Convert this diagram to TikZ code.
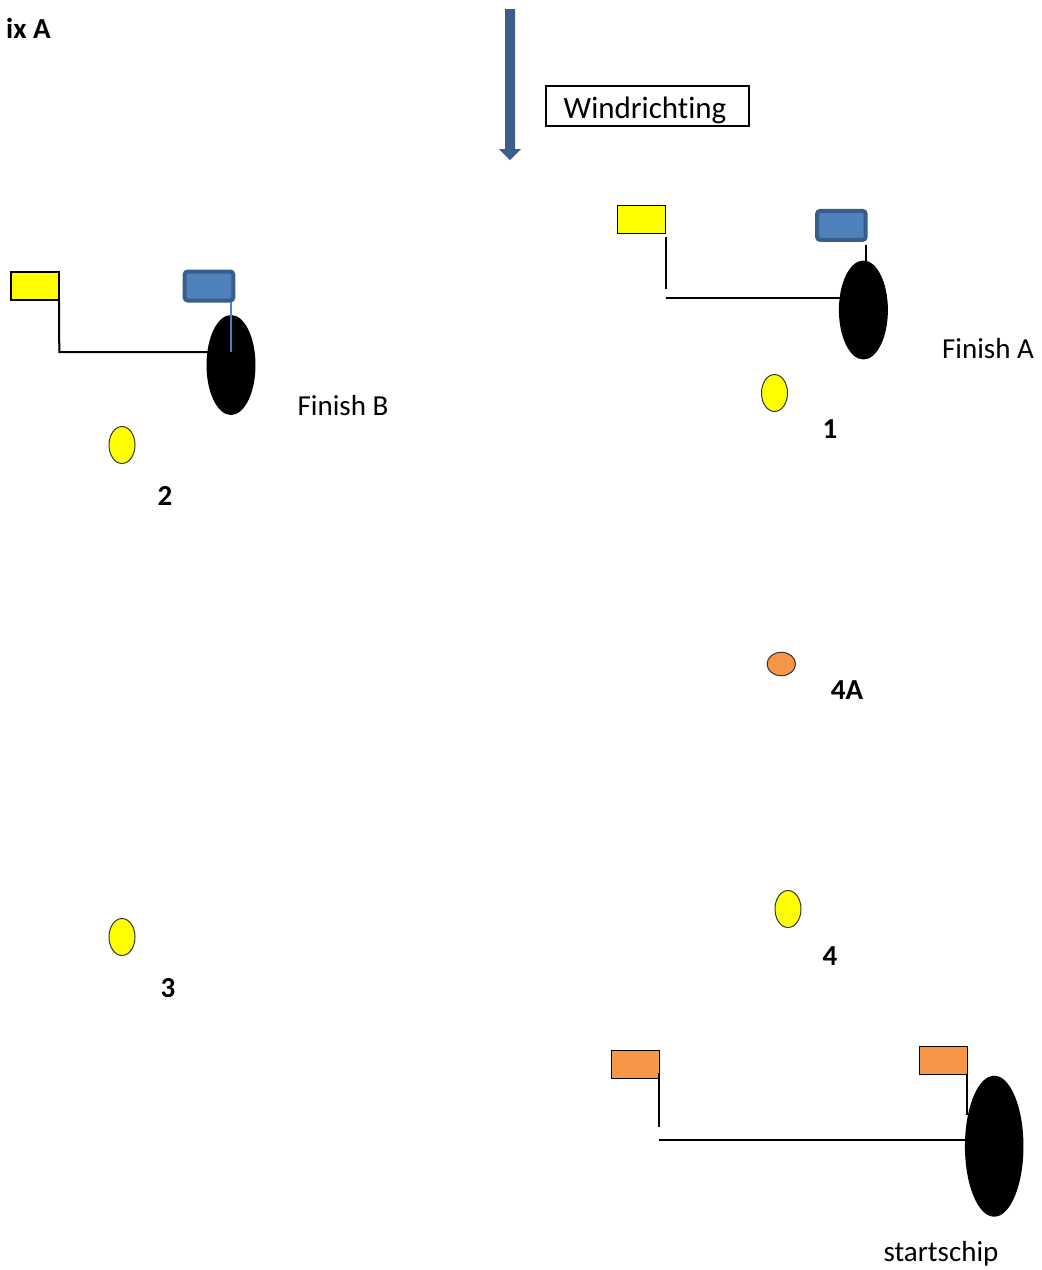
\documentclass[tikz,border=0pt]{standalone}
\usepackage{fontspec}
\setmainfont[Ligatures=NoCommon]{Carlito}
\usetikzlibrary{shapes.geometric}
\definecolor{windblue}{RGB}{59,94,140}
\definecolor{flagblue}{RGB}{79,129,189}
\definecolor{flagedge}{RGB}{58,94,140}
\definecolor{flagorange}{RGB}{247,150,70}
\definecolor{flagyellow}{RGB}{255,255,0}
\begin{document}
\begin{tikzpicture}[x=1pt,y=-1pt,
  lbl/.style={font=\fontsize{29}{34}\selectfont, inner sep=0, anchor=base},
  num/.style={font=\fontsize{29}{34}\selectfont\bfseries, inner sep=0, anchor=base},
  flagbox/.style={draw=black, line width=1.2, minimum width=48, minimum height=28, inner sep=0, outer sep=0},
  blueflag/.style={draw=flagedge, fill=flagblue, line width=4, rounded corners=3, minimum width=48.6, minimum height=29, inner sep=0, outer sep=0},
  boat/.style={ellipse, fill=black, inner sep=0, outer sep=0},
  buoy/.style={ellipse, draw=black!80, line width=1, fill=flagyellow, inner sep=0, minimum width=26, minimum height=37},
  rope/.style={draw=black, line width=2}
]
\useasboundingbox (0,0) rectangle (1042,1270);

% title fragment
\node[num, anchor=base east] (title) at (51,38) {ix A};

% wind arrow
\fill[windblue] (505,9) -- (515,9) -- (515,149) -- (521,149) -- (510,160) -- (499,149) -- (505,149) -- cycle;
\node[draw=black, line width=1.5, minimum width=203, minimum height=40, inner sep=0] (wind) at (647.5,106) {};
\node[font=\fontsize{31}{36}\selectfont, inner sep=0, anchor=base] (windtxt) at (645,118) {Windrichting};

% ---------- Finish B ----------
\node[flagbox, fill=flagyellow] (ylwB) at (35,286) {};
\node[blueflag] (bluB) at (209,286) {};
\node[boat, minimum width=49, minimum height=100] (boatB) at (231,365) {};
\coordinate (cornerB) at (59.3,352);
\coordinate (hitB) at (207.5,352);
\draw[rope] (ylwB.south east) -- (cornerB) -- (hitB);
\draw[flagblue, line width=1.5] (231,302) -- (231,352);
\node[lbl] (finB) at (343,415) {Finish B};
\node[buoy] (m2) at (122,445) {};
\node[num] (l2) at (165,505) {2};

% ---------- Finish A ----------
\node[flagbox, fill=flagyellow] (ylwA) at (641.3,219.5) {};
\node[blueflag] (bluA) at (841.4,225.4) {};
\node[boat, minimum width=49, minimum height=99] (boatA) at (863.4,310) {};
\coordinate (poleAtop) at (665.5,237);
\coordinate (poleAbot) at (665.5,289);
\coordinate (lineA) at (665.5,298);
\coordinate (hitA) at (839.5,298);
\draw[rope] (poleAtop) -- (poleAbot);
\draw[rope] (lineA) -- (hitA);
\coordinate (stubA) at (865.7,245);
\coordinate (stubAend) at (865.7,263);
\draw[rope] (stubA) -- (stubAend);
\node[lbl] (finA) at (988,358) {Finish A};
\node[buoy] (m1) at (774.5,393) {};
\node[num] (l1) at (830,438) {1};

% ---------- 4A ----------
\node[ellipse, draw=black!80, line width=1, fill=flagorange, inner sep=0, minimum width=28.5, minimum height=23.5] (m4A) at (781.3,664) {};
\node[num] (l4A) at (847,699) {4A};

% ---------- 3 and 4 ----------
\node[buoy] (m3) at (122,937) {};
\node[num] (l3) at (168,997) {3};
\node[buoy] (m4) at (788,909) {};
\node[num] (l4) at (830,965) {4};

% ---------- Start ----------
\node[flagbox, fill=flagorange] (orL) at (635.3,1064.3) {};
\node[flagbox, fill=flagorange] (orR) at (943.3,1060.2) {};
\node[boat, minimum width=58.5, minimum height=141] (boatS) at (994.2,1146.2) {};
\coordinate (poleLbot) at (659.3,1126.7);
\draw[rope] (orL.south east) ++(0,-5) -- (poleLbot);
\coordinate (lineS) at (659.3,1140);
\coordinate (hitS) at (966,1140);
\draw[rope] (lineS) -- (hitS);
\coordinate (poleRbot) at (967.3,1115);
\draw[rope] (orR.south east) -- (poleRbot);
\node[lbl] (start) at (941,1261) {startschip};
\end{tikzpicture}
\end{document}
